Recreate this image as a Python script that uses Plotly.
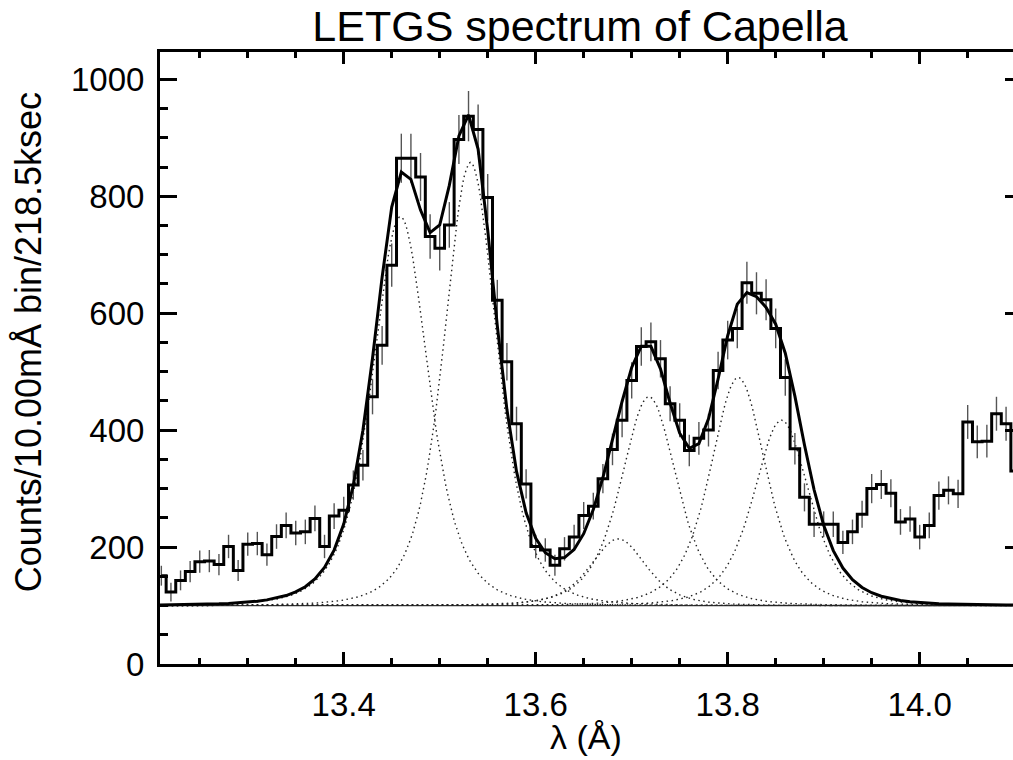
import numpy as np
import plotly.graph_objects as go

# ---------------- data ----------------
bin_centers = np.round(np.arange(13.21, 14.105, 0.01), 2)   # 10 mÅ bins

counts = [151, 123, 143, 158, 175, 176, 170, 201, 160, 205,
          206, 187, 218, 237, 224, 226, 249, 201, 253, 263,
          306, 340, 457, 545, 682, 865, 865, 833, 731, 711,
          751, 897, 937, 914, 798, 622, 517, 411, 308, 201,
          195, 169, 197, 217, 254, 270, 317, 367, 417, 485,
          543, 551, 522, 445, 417, 365, 386, 400, 502, 554,
          574, 652, 634, 623, 574, 490, 368, 285, 239, 239,
          239, 208, 226, 256, 300, 307, 292, 243, 248, 217,
          237, 288, 297, 291, 414, 380, 381, 428, 411, 330]

errors = [17, 16, 17, 18, 19, 19, 18, 20, 18, 20,
          20, 19, 21, 22, 21, 21, 22, 20, 22, 23,
          25, 26, 30, 33, 37, 42, 42, 41, 38, 38,
          39, 42, 43, 43, 40, 35, 32, 29, 25, 20,
          20, 18, 20, 21, 23, 23, 25, 27, 29, 31,
          33, 33, 32, 30, 29, 27, 28, 28, 32, 33,
          34, 36, 36, 35, 34, 31, 27, 24, 22, 22,
          22, 20, 21, 23, 25, 25, 24, 22, 22, 21,
          22, 24, 24, 24, 29, 28, 28, 29, 29, 26]

# fitted line components
line_center = [13.459, 13.532, 13.686, 13.718, 13.811, 13.856]
line_amp    = [665, 758, 114, 357, 390, 317]      # above continuum
line_width  = [0.058, 0.055, 0.058, 0.058, 0.058, 0.058]
line_beta   = 2.3
continuum   = 100

x_ticks = [13.4, 13.6, 13.8, 14.0]
y_ticks = [0, 200, 400, 600, 800, 1000]

# ---------------- model curves ----------------
def profile(x, c, a, w):
    return a * (1.0 + ((x - c) / w) ** 2) ** (-line_beta)

model_x = np.round(np.arange(13.20, 14.115, 0.01), 2)
fit_total = continuum + sum(profile(model_x, c, a, w)
                            for c, a, w in zip(line_center, line_amp, line_width))
comp_x = np.linspace(13.20, 14.11, 456)

FONT = "Liberation Sans"
fig = go.Figure()

# baseline (continuum)
fig.add_trace(go.Scatter(x=[13.20, 14.11], y=[continuum, continuum], mode="lines",
                         line=dict(color="#333333", width=1.3), hoverinfo="skip"))

# dotted components
for c, a, w in zip(line_center, line_amp, line_width):
    fig.add_trace(go.Scatter(x=comp_x, y=continuum + profile(comp_x, c, a, w),
                             mode="lines",
                             line=dict(color="#222222", width=1.4, dash="1.5px,3.5px"),
                             hoverinfo="skip"))

# error bars
fig.add_trace(go.Scatter(x=bin_centers, y=counts, mode="markers",
                         marker=dict(size=0.1, color="rgba(0,0,0,0)"),
                         error_y=dict(type="data", array=errors, visible=True,
                                      width=0, thickness=1.4, color="#555555"),
                         hoverinfo="skip"))

# histogram
fig.add_trace(go.Scatter(x=bin_centers, y=counts, mode="lines",
                         line=dict(color="black", width=3, shape="hvh")))

# total fit
fig.add_trace(go.Scatter(x=model_x, y=fit_total, mode="lines",
                         line=dict(color="black", width=3)))

axis_common = dict(showline=True, linecolor="black", linewidth=3, mirror="ticks",
                   ticks="inside", tickcolor="black", tickwidth=2.5,
                   showgrid=False, zeroline=False,
                   tickfont=dict(family=FONT, size=33, color="black"))

fig.update_xaxes(range=[13.2086, 14.1066], tickvals=x_ticks,
                 ticktext=[f"{v:.1f}" for v in x_ticks], ticklen=12,
                 minor=dict(dtick=0.05, tick0=13.0, ticklen=6, tickwidth=2.5,
                            tickcolor="black", ticks="inside", showgrid=False),
                 ticklabelstandoff=9, automargin=False, **axis_common)
fig.update_yaxes(range=[0, 1046.7], tickvals=y_ticks, ticklen=17,
                 minor=dict(dtick=50, tick0=0, ticklen=8, tickwidth=2.5,
                            tickcolor="black", ticks="inside", showgrid=False),
                 ticklabelstandoff=6, automargin=False, **axis_common)

fig.update_layout(
    width=1030, height=760,
    margin=dict(l=160, r=8, t=52, b=96),
    paper_bgcolor="white", plot_bgcolor="white",
    showlegend=False,
    title=dict(text="LETGS spectrum of Capella", x=580 / 1030, xanchor="center",
               y=1 - 26 / 760, yanchor="middle",
               font=dict(family=FONT, size=43, color="black")),
    annotations=[
        dict(text="λ (Å)", xref="paper", yref="paper", x=(586 - 160) / 862, y=-0.119,
             xanchor="center", yanchor="middle", showarrow=False,
             font=dict(family=FONT, size=34, color="black")),
        dict(text="Counts/10.00mÅ bin/218.5ksec", xref="paper", yref="paper",
             x=-0.153, y=0.526, textangle=-90, xanchor="center", yanchor="middle",
             showarrow=False, font=dict(family=FONT, size=36, color="black")),
    ],
)

fig.write_html(
    "out.html",
    config={"displayModeBar": False},
    post_script="document.documentElement.style.overflow='hidden';"
                "document.body.style.margin='0';document.body.style.overflow='hidden';",
)
